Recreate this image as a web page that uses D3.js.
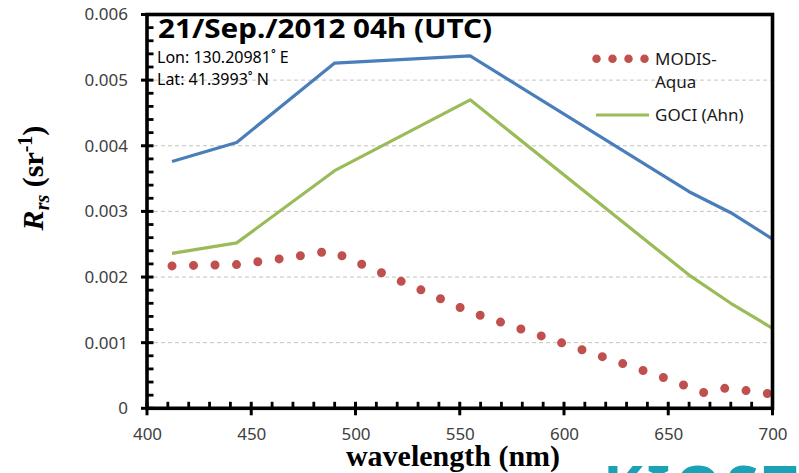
<!DOCTYPE html>
<html>
<head>
<meta charset="utf-8">
<script src="https://cdn.jsdelivr.net/npm/d3@7/dist/d3.min.js"></script>
<style>
  html, body { margin: 0; padding: 0; background: #fff; }
  svg { display: block; }
</style>
</head>
<body>
<svg id="chart" width="799" height="473"></svg>
<script>
// Remote-sensing reflectance spectra, 21 Sep 2012 04h UTC
const xTicks = [400, 450, 500, 550, 600, 650, 700];
const xMinorTicks = [410, 420, 430, 440, 460, 470, 480, 490, 510, 520, 530, 540, 560, 570, 580, 590,
                     610, 620, 630, 640, 660, 670, 680, 690];
const yTicks = [0, 0.001, 0.002, 0.003, 0.004, 0.005, 0.006];
const yTickLabels = ["0", "0.001", "0.002", "0.003", "0.004", "0.005", "0.006"];
const yMinorTicks = [0.0002, 0.0004, 0.0006, 0.0008, 0.0012, 0.0014, 0.0016, 0.0018,
                     0.0022, 0.0024, 0.0026, 0.0028, 0.0032, 0.0034, 0.0036, 0.0038,
                     0.0042, 0.0044, 0.0046, 0.0048, 0.0052, 0.0054, 0.0056, 0.0058];

// GOCI band centres (nm)
const gociBands = [412, 443, 490, 555, 660, 680, 745];
const gociUpper = [0.00376, 0.00405, 0.00526, 0.00537, 0.00330, 0.00298, 0.00168];
const gociAhn   = [0.00236, 0.00252, 0.00362, 0.00470, 0.00203, 0.00160, 0.00036];

// MODIS-Aqua band centres (nm)
const modisBands = [412, 443, 469, 488, 531, 547, 555, 645, 667, 678, 748];
const modisAqua  = [0.00217, 0.00219, 0.00230, 0.00240, 0.00181, 0.00158, 0.00147, 0.00050, 0.00024, 0.00031, 0.00001];

const titleText = "21/Sep./2012 04h (UTC)";
const lonText = "Lon: 130.20981\u02DA E";
const latText = "Lat: 41.3993\u02DA N";

const svg = d3.select("#chart");
const plotLeft = 147, plotRight = 772.5, plotTop = 14.5, plotBottom = 408.3;

const x = d3.scaleLinear().domain([400, 700]).range([plotLeft, plotRight]);
const y = d3.scaleLinear().domain([0, 0.006]).range([plotBottom, plotTop]);

const SANS = "'Noto Sans', 'Open Sans', sans-serif";
const SERIF = "'Liberation Serif', 'DejaVu Serif', serif";

// clip region for the series
svg.append("defs").append("clipPath").attr("id", "plotClip")
  .append("rect").attr("x", plotLeft).attr("y", plotTop)
  .attr("width", plotRight - plotLeft).attr("height", plotBottom - plotTop);

// dashed horizontal gridlines
svg.append("g").selectAll("line")
  .data(yTicks.slice(1, -1))
  .join("line")
  .attr("x1", plotLeft).attr("x2", plotRight)
  .attr("y1", d => y(d)).attr("y2", d => y(d))
  .attr("stroke", "#c4c4c4").attr("stroke-width", 1)
  .attr("stroke-dasharray", "4,3");

// series
const plot = svg.append("g").attr("clip-path", "url(#plotClip)");
const line = d3.line().x(d => x(d[0])).y(d => y(d[1]));

plot.append("path")
  .datum(gociBands.map((b, i) => [b, gociUpper[i]]))
  .attr("d", line).attr("fill", "none")
  .attr("stroke", "#4a7ebb").attr("stroke-width", 3.2)
  .attr("stroke-linejoin", "round");

plot.append("path")
  .datum(gociBands.map((b, i) => [b, gociAhn[i]]))
  .attr("d", line).attr("fill", "none")
  .attr("stroke", "#9bbb59").attr("stroke-width", 3.2)
  .attr("stroke-linejoin", "round");

plot.append("path")
  .datum(modisBands.map((b, i) => [b, modisAqua[i]]))
  .attr("d", line).attr("fill", "none")
  .attr("stroke", "#c0504d").attr("stroke-width", 9)
  .attr("stroke-linecap", "round")
  .attr("stroke-dasharray", "0 21.5");

// plot frame
svg.append("rect")
  .attr("x", plotLeft).attr("y", plotTop)
  .attr("width", plotRight - plotLeft).attr("height", plotBottom - plotTop)
  .attr("fill", "none").attr("stroke", "#000").attr("stroke-width", 3.6);

// tick labels from d3 axes
const yAxis = d3.axisLeft(y).tickValues(yTicks)
  .tickFormat((d, i) => yTickLabels[i]).tickSize(0).tickPadding(19);
const xAxis = d3.axisBottom(x).tickValues(xTicks).tickFormat(d3.format("d"))
  .tickSize(0).tickPadding(20);

function styleLabels(g) {
  g.select(".domain").remove();
  g.selectAll(".tick text").attr("fill", "#404040")
    .style("font-family", SANS).style("font-size", "17px");
}
svg.append("g").attr("transform", `translate(${plotLeft},0)`).call(yAxis).call(styleLabels);
svg.append("g").attr("transform", `translate(0,${plotBottom})`).call(xAxis).call(styleLabels);

// tick marks: major ticks cross the axis, minor ticks point inward
const tickG = svg.append("g").attr("fill", "#000");
tickG.selectAll("rect.ymaj").data(yTicks).join("rect").attr("class", "ymaj")
  .attr("x", plotLeft - 6).attr("width", 12.5)
  .attr("y", d => y(d) - 1.5).attr("height", 3);
tickG.selectAll("rect.ymin").data(yMinorTicks).join("rect").attr("class", "ymin")
  .attr("x", plotLeft).attr("width", 6.5)
  .attr("y", d => y(d) - 1.4).attr("height", 2.8);
tickG.selectAll("rect.xmaj").data(xTicks).join("rect").attr("class", "xmaj")
  .attr("x", d => x(d) - 1.5).attr("width", 3)
  .attr("y", plotBottom - 6.5).attr("height", 13.5);
tickG.selectAll("rect.xmin").data(xMinorTicks).join("rect").attr("class", "xmin")
  .attr("x", d => x(d) - 1.4).attr("width", 2.8)
  .attr("y", plotBottom - 6.5).attr("height", 6.5);

// title and position annotation
svg.append("text")
  .attr("x", 158).attr("y", 38)
  .attr("textLength", 334).attr("lengthAdjust", "spacingAndGlyphs")
  .style("font-family", SANS).style("font-weight", "bold").style("font-size", "27px")
  .attr("fill", "#000").text(titleText);

svg.append("text").attr("x", 157).attr("y", 63)
  .style("font-family", SANS).style("font-size", "16px").attr("fill", "#000").text(lonText);
svg.append("text").attr("x", 157).attr("y", 85)
  .style("font-family", SANS).style("font-size", "16px").attr("fill", "#000").text(latText);

// legend
const legend = svg.append("g");
legend.append("path")
  .attr("d", "M596.5,58.7H645")
  .attr("stroke", "#c0504d").attr("stroke-width", 8.5)
  .attr("stroke-linecap", "round").attr("stroke-dasharray", "0 16");
legend.append("line")
  .attr("x1", 596).attr("x2", 649).attr("y1", 115).attr("y2", 115)
  .attr("stroke", "#9bbb59").attr("stroke-width", 3.2);
const legText = legend.append("g")
  .style("font-family", SANS).style("font-size", "17px").attr("fill", "#1a1a1a");
legText.append("text").attr("x", 655).attr("y", 65).text("MODIS-");
legText.append("text").attr("x", 655).attr("y", 88).text("Aqua");
legText.append("text").attr("x", 655).attr("y", 121).text("GOCI (Ahn)");

// axis titles
svg.append("text")
  .attr("x", 453).attr("y", 466)
  .attr("text-anchor", "middle")
  .style("font-family", SERIF).style("font-weight", "bold").style("font-size", "30px")
  .attr("fill", "#000").text("wavelength (nm)");

const yTitle = svg.append("text")
  .attr("transform", "translate(43,178) rotate(-90)")
  .attr("text-anchor", "middle")
  .style("font-family", SERIF).style("font-weight", "bold").style("font-size", "30px")
  .attr("fill", "#000");
yTitle.append("tspan").style("font-style", "italic").text("R");
yTitle.append("tspan").style("font-style", "italic").style("font-size", "20px").attr("dy", 6).text("rs");
yTitle.append("tspan").attr("dy", -6).text(" (sr");
yTitle.append("tspan").style("font-size", "20px").attr("dy", -11).text("-1");
yTitle.append("tspan").attr("dy", 11).text(")");

// institute logo strip along the bottom edge
svg.append("text")
  .attr("x", 603).attr("y", 508)
  .style("font-family", SANS).style("font-weight", "bold").style("font-size", "60px")
  .attr("fill", "#1aa3b6").attr("letter-spacing", "4px").text("KIOST");
</script>
</body>
</html>
